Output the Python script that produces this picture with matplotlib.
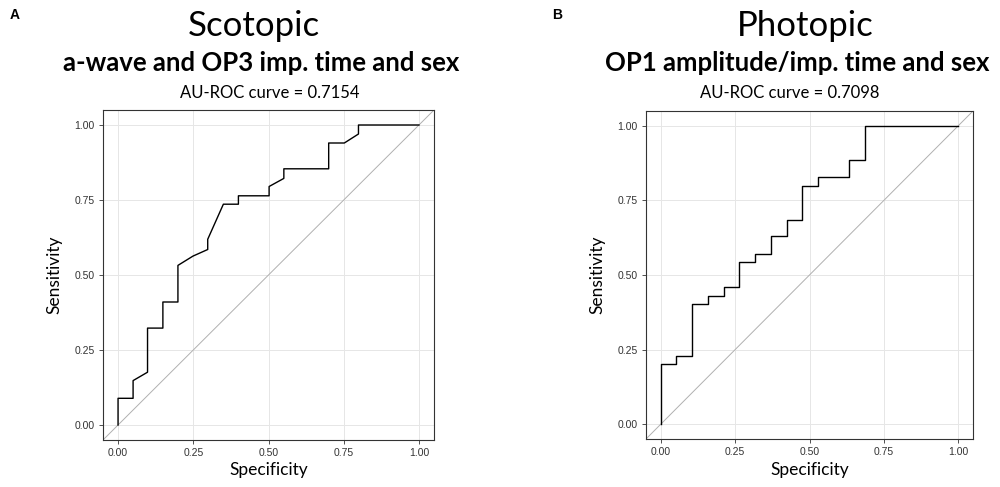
import matplotlib.pyplot as plt

# ROC curve vertices
spec_a = [0.0, 0.0, 0.05, 0.05, 0.098, 0.098, 0.149, 0.149, 0.199, 0.199, 0.249, 0.298, 0.298,
          0.350, 0.40, 0.40, 0.502, 0.502, 0.551, 0.551, 0.70, 0.70, 0.752, 0.799, 0.799, 1.0]
sens_a = [0.0, 0.089, 0.089, 0.148, 0.176, 0.323, 0.323, 0.410, 0.410, 0.532, 0.563, 0.585, 0.619,
          0.736, 0.736, 0.764, 0.764, 0.795, 0.822, 0.854, 0.854, 0.940, 0.940, 0.970, 1.0, 1.0]

spec_b = [0.0, 0.0, 0.052, 0.052, 0.106, 0.106, 0.159, 0.159, 0.211, 0.211, 0.264, 0.264, 0.317,
          0.317, 0.370, 0.370, 0.424, 0.424, 0.474, 0.474, 0.527, 0.527, 0.633, 0.633, 0.686, 0.686, 1.0]
sens_b = [0.0, 0.2025, 0.2025, 0.228, 0.228, 0.402, 0.402, 0.430, 0.430, 0.459, 0.459, 0.543, 0.543,
          0.572, 0.572, 0.630, 0.630, 0.686, 0.686, 0.800, 0.800, 0.829, 0.829, 0.885, 0.885, 1.0, 1.0]

ticks = [0.0, 0.25, 0.5, 0.75, 1.0]
tick_labels = ['0.00', '0.25', '0.50', '0.75', '1.00']

panels = [
    dict(label='A', title='Scotopic', sub='a-wave and OP3 imp. time and sex',
         auc='AU-ROC curve = 0.7154', x=spec_a, y=sens_a,
         rect=[0.103, 47 / 487, 0.331, 330 / 487], cx=(0.254, 0.261, 0.270), lx=0.010),
    dict(label='B', title='Photopic', sub='OP1 amplitude/imp. time and sex',
         auc='AU-ROC curve = 0.7098', x=spec_b, y=sens_b,
         rect=[0.646, 48 / 487, 0.327, 328 / 487], cx=(0.805, 0.797, 0.790), lx=0.552),
]

title_font = ['Lato', 'DejaVu Sans']

fig = plt.figure(figsize=(10, 4.87), dpi=100)

for p in panels:
    ax = fig.add_axes(p['rect'])
    ax.plot([-0.1, 1.1], [-0.1, 1.1], color='#b0b0b0', lw=0.7, zorder=2)
    ax.plot(p['x'], p['y'], color='black', lw=1.0, zorder=3)
    ax.set_xlim(-0.05, 1.05)
    ax.set_ylim(-0.05, 1.05)
    ax.set_xticks(ticks)
    ax.set_yticks(ticks)
    ax.set_xticklabels(tick_labels, family='Liberation Sans', fontsize=7.5, color='#333333')
    ax.set_yticklabels(tick_labels, family='Liberation Sans', fontsize=7.5, color='#333333')
    ax.tick_params(length=3, width=0.6, color='#333333', pad=3)
    ax.grid(True, color='#e6e6e6', lw=0.7)
    ax.set_axisbelow(True)
    for s in ax.spines.values():
        s.set_linewidth(0.8)
        s.set_color('#333333')
    ax.set_xlabel('Specificity', family=title_font, fontsize=12.5, labelpad=3)
    ax.set_ylabel('Sensitivity', family=title_font, fontsize=12.5, labelpad=9)

    fig.text(p['cx'][0], 1 - 36 / 487, p['title'], family=title_font, fontsize=25,
             ha='center', va='baseline')
    fig.text(p['cx'][1], 1 - 71 / 487, p['sub'], family=title_font, fontsize=18.5,
             fontweight='bold', ha='center', va='baseline')
    fig.text(p['cx'][2], 1 - 98 / 487, p['auc'], family=title_font, fontsize=12,
             ha='center', va='baseline')
    fig.text(p['lx'], 1 - 19 / 487, p['label'], family='Liberation Sans', fontsize=10,
             fontweight='bold', ha='left', va='baseline')

fig.savefig('out.png', dpi=100)
